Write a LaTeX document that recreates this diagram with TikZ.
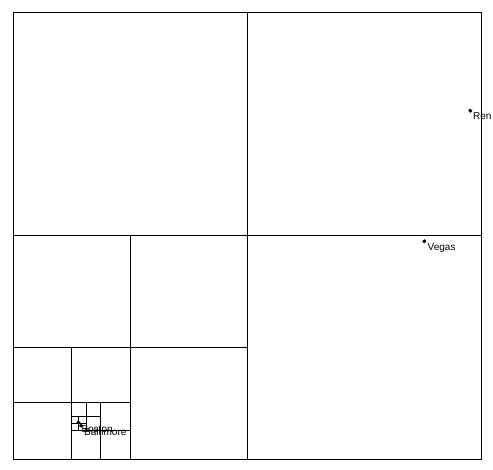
\documentclass[tikz,border=0pt]{standalone}
\usepackage{fontspec}
\setmainfont{Liberation Sans}
\tikzset{
  cell/.style={draw, line width=1pt},
  city/.style={draw, circle, fill=black, inner sep=0pt, minimum size=3.5pt},
  cityname/.style={anchor=base west, inner sep=0pt, font=\fontsize{10}{12}\selectfont}
}
\begin{document}
\begin{tikzpicture}[x=1pt, y=-1pt]
\useasboundingbox (0,0) rectangle (493,470);

% whole region and first split
\draw[cell] (13,13) rectangle (481,459);
\draw[cell] (247,13) -- (247,459);
\draw[cell] (13,236) -- (481,236);

% lower left quadrant, split again and again
\draw[cell] (130,236) -- (130,459);
\draw[cell] (13,347.5) -- (247,347.5);
\draw[cell] (71.5,347.5) -- (71.5,459);
\draw[cell] (13,403) -- (130,403);
\draw[cell] (100.75,403) -- (100.75,459);
\draw[cell] (71.5,431) -- (130,431);
\draw[cell] (86,403) -- (86,431);
\draw[cell] (71.5,417) -- (100.75,417);
\draw[cell] (78.75,417) -- (78.75,431);
\draw[cell] (71.5,424) -- (86,424);

\node[city] (reno) at (470.3, 110.7) {};
\node[city] (vegas) at (424.3, 241.3) {};
\node[city] (boston) at (78.3, 422.5) {};
\node[city] (baltimore) at (81, 425.7) {};

\node[cityname] (renoname) at (473, 119.5) {Ren};
\node[cityname] (vegasname) at (427.5, 251) {Vegas};
\node[cityname] (bostonname) at (81.3, 432) {Boston};
\node[cityname] (baltimorename) at (84, 435.5) {Baltimore};

\end{tikzpicture}
\end{document}
